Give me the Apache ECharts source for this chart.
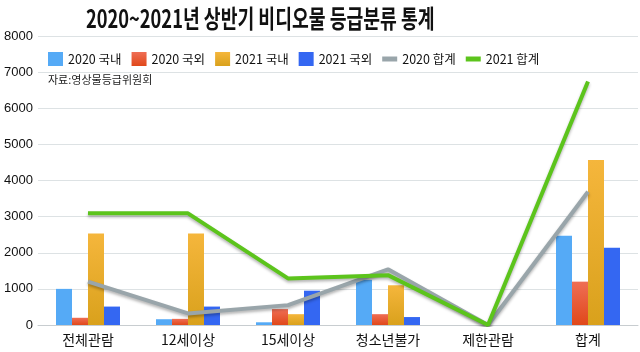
<!DOCTYPE html>
<html>
<head>
<meta charset="utf-8">
<script src="https://cdn.jsdelivr.net/npm/echarts@6/dist/echarts.min.js"></script>
<style>
  html, body { margin: 0; padding: 0; background: #fff; }
  #chart { width: 640px; height: 352px; }
</style>
</head>
<body>
<div id="chart"></div>
<script>
  // 분류 항목
  var categories = ['전체관람', '12세이상', '15세이상', '청소년불가', '제한관람', '합계'];
  // 막대 데이터
  var dom2020 = [1000, 160, 75, 1250, 0, 2470];
  var for2020 = [200, 170, 440, 300, 0, 1200];
  var dom2021 = [2530, 2530, 300, 1100, 0, 4570];
  var for2021 = [510, 510, 950, 220, 0, 2140];
  // 합계 선
  var total2020 = [1200, 320, 550, 1540, 0, 3690];
  var total2021 = [3090, 3090, 1290, 1380, 0, 6740];

  var font = '"Noto Sans CJK KR", "Noto Sans", sans-serif';
  // 범례용 굵은 선 아이콘 (M0,0 / M0,14 로 크기 고정)
  var lineIcon = 'path://M0,0 M0,14 M0,4.5 L15,4.5 L15,9.5 L0,9.5 Z';

  function grad(top, bottom) {
    return new echarts.graphic.LinearGradient(0, 0, 0, 1, [
      { offset: 0, color: top },
      { offset: 1, color: bottom }
    ]);
  }

  function bar(name, data, color) {
    return {
      name: name,
      type: 'bar',
      data: data,
      barWidth: 16,
      barGap: '0%',
      itemStyle: { color: color },
      emphasis: { disabled: true }
    };
  }

  function line(name, data, color) {
    return {
      name: name,
      type: 'line',
      data: data,
      symbol: 'none',
      z: 5,
      lineStyle: {
        width: 4,
        color: color,
        shadowColor: 'rgba(0,0,0,0.3)',
        shadowBlur: 3,
        shadowOffsetY: 2
      },
      itemStyle: { color: color }
    };
  }

  var chart = echarts.init(document.getElementById('chart'));
  chart.setOption({
    animation: false,
    graphic: [{
      type: 'text',
      x: 86,
      y: 6,
      scaleX: 0.73,
      style: {
        text: '2020~2021년 상반기 비디오물 등급분류 통계',
        font: 'bold 25px ' + font,
        fill: '#111',
        verticalAlign: 'top'
      }
    }, {
      type: 'text',
      left: 48,
      top: 74,
      style: { text: '자료:영상물등급위원회', font: '11px ' + font, fill: '#222' }
    }],
    legend: {
      left: 43,
      top: 47,
      itemWidth: 15,
      itemHeight: 14,
      itemGap: 10,
      textStyle: { fontFamily: font, fontSize: 12.5, color: '#111' },
      data: [
        { name: '2020 국내', icon: 'rect' },
        { name: '2020 국외', icon: 'rect' },
        { name: '2021 국내', icon: 'rect' },
        { name: '2021 국외', icon: 'rect' },
        { name: '2020 합계', icon: lineIcon },
        { name: '2021 합계', icon: lineIcon }
      ]
    },
    grid: { left: 38, right: 2, top: 36, bottom: 27 },
    xAxis: {
      type: 'category',
      data: categories,
      axisLine: { lineStyle: { color: '#c8cdd0', width: 1 } },
      axisTick: { show: false },
      axisLabel: { fontFamily: font, fontSize: 14, color: '#111', margin: 8 }
    },
    yAxis: {
      type: 'value',
      min: 0,
      max: 8000,
      interval: 1000,
      axisLabel: {
        fontFamily: 'Arial, "Liberation Sans", sans-serif',
        fontSize: 13,
        color: '#111',
        margin: 5,
        formatter: function (v) { return String(v); }
      },
      splitLine: { lineStyle: { color: '#dde2e4', width: 1 } }
    },
    series: [
      bar('2020 국내', dom2020, '#55aaf6'),
      bar('2020 국외', for2020, grad('#ef6e55', '#e0481a')),
      bar('2021 국내', dom2021, grad('#f5b63c', '#d9a11c')),
      bar('2021 국외', for2021, '#3467f2'),
      line('2020 합계', total2020, '#99a5aa'),
      line('2021 합계', total2021, '#5cc41c')
    ]
  });
</script>
</body>
</html>
